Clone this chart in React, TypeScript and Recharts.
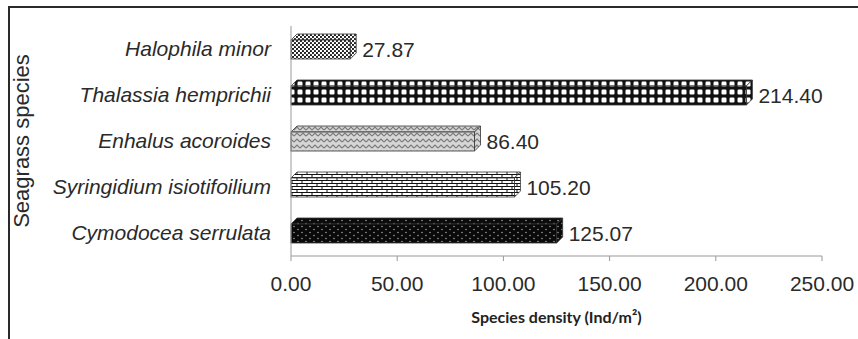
import React from 'react';
import { BarChart, Bar, XAxis, YAxis, Cell, LabelList } from 'recharts';

const species = [
    'Halophila minor',
    'Thalassia hemprichii',
    'Enhalus acoroides',
    'Syringidium isiotifoilium',
    'Cymodocea serrulata',
];
const density = [27.87, 214.4, 86.4, 105.2, 125.07];
const xTicks = [0, 50, 100, 150, 200, 250];
const patterns = ['pDots', 'pChecker', 'pZigzag', 'pBrick', 'pBlackDots'];

const data = species.map((name, i) => ({ name, density: density[i] }));

const DEPTH = 6;

// bar with a little 3D depth like the Excel original
const Bar3D = (props: any) => {
    const { x, y, width, height, fill } = props;
    if (width == null || width <= 0) return null;
    const d = DEPTH;
    return (
        <g stroke="#333" strokeWidth={0.8}>
            <polygon
                points={`${x},${y} ${x + d},${y - d} ${x + width + d},${y - d} ${x + width},${y}`}
                fill={fill}
            />
            <polygon
                points={`${x + width},${y} ${x + width + d},${y - d} ${x + width + d},${y + height - d} ${x + width},${y + height}`}
                fill={fill}
            />
            <rect x={x} y={y} width={width} height={height} fill={fill} />
        </g>
    );
};

const font = '"Liberation Sans", Arial, sans-serif';

const App = () => {
    return (
        <div style={{ position: 'absolute', left: 0, top: 0, width: 858, height: 339, background: '#fff', overflow: 'hidden' }}>
            <div
                style={{
                    position: 'absolute',
                    left: 8,
                    top: 6,
                    width: 900,
                    height: 400,
                    borderTop: '2px solid #2a2a2a',
                    borderLeft: '2px solid #2a2a2a',
                }}
            />
            <div style={{ position: 'absolute', left: 0, top: 0 }}>
                <BarChart
                    width={858}
                    height={339}
                    data={data}
                    layout="vertical"
                    margin={{ top: 26, right: 36, bottom: 8, left: 0 }}
                    barSize={19}
                >
                    <defs>
                        <pattern id="pDots" width="4" height="4" patternUnits="userSpaceOnUse">
                            <rect width="4" height="4" fill="#fff" />
                            <circle cx="1" cy="1" r="1.1" fill="#111" />
                            <circle cx="3" cy="3" r="1.1" fill="#111" />
                        </pattern>
                        <pattern id="pChecker" width="8" height="8" patternUnits="userSpaceOnUse">
                            <rect width="8" height="8" fill="#111" />
                            <rect x="1.5" y="1.5" width="5" height="5" rx="1.2" fill="#fff" />
                        </pattern>
                        <pattern id="pZigzag" width="6" height="6" patternUnits="userSpaceOnUse">
                            <rect width="6" height="6" fill="#d6d6d6" />
                            <path d="M0,4 L3,1 L6,4" stroke="#7a7a7a" strokeWidth="1.2" fill="none" />
                        </pattern>
                        <pattern id="pBrick" width="10" height="6" patternUnits="userSpaceOnUse">
                            <rect width="10" height="6" fill="#fff" />
                            <line x1="0" y1="0.5" x2="10" y2="0.5" stroke="#111" strokeWidth="1" />
                            <line x1="0" y1="3.5" x2="10" y2="3.5" stroke="#111" strokeWidth="1" />
                            <line x1="2" y1="0.5" x2="2" y2="3.5" stroke="#111" strokeWidth="1" />
                            <line x1="7" y1="3.5" x2="7" y2="6" stroke="#111" strokeWidth="1" />
                        </pattern>
                        <pattern id="pBlackDots" width="8" height="6" patternUnits="userSpaceOnUse">
                            <rect width="8" height="6" fill="#0a0a0a" />
                            <circle cx="2" cy="1.5" r="0.7" fill="#bbb" />
                            <circle cx="6" cy="4.5" r="0.7" fill="#bbb" />
                        </pattern>
                    </defs>
                    <XAxis
                        type="number"
                        domain={[0, 250]}
                        ticks={xTicks}
                        tickFormatter={(v: number) => v.toFixed(2)}
                        height={75}
                        tickSize={5}
                        tickMargin={15}
                        stroke="#999"
                        tick={{ fill: '#2a2a2a', fontSize: 21, fontFamily: font }}
                        label={{
                            value: 'Species density (Ind/m²)',
                            position: 'insideBottom',
                            offset: 8,
                            style: { fill: '#222', fontSize: 16, fontWeight: 700, fontFamily: 'Lato, sans-serif' },
                        }}
                    />
                    <YAxis
                        type="category"
                        dataKey="name"
                        width={291}
                        tickLine={false}
                        tickMargin={14}
                        stroke="#999"
                        tick={{ fill: '#2a2a2a', fontSize: 21, fontStyle: 'italic', fontFamily: font }}
                        label={{
                            value: 'Seagrass species',
                            angle: -90,
                            position: 'insideLeft',
                            offset: 21,
                            style: { textAnchor: 'middle', fill: '#2a2a2a', fontSize: 22, fontFamily: font },
                        }}
                    />
                    <Bar dataKey="density" shape={<Bar3D />} isAnimationActive={false}>
                        {data.map((entry, index) => (
                            <Cell key={`cell-${index}`} fill={`url(#${patterns[index]})`} />
                        ))}
                        <LabelList
                            dataKey="density"
                            position="right"
                            offset={12}
                            formatter={(v: any) => Number(v).toFixed(2)}
                            style={{ fill: '#2a2a2a', fontSize: 21, fontFamily: font }}
                        />
                    </Bar>
                </BarChart>
            </div>
        </div>
    );
};

export default App;
